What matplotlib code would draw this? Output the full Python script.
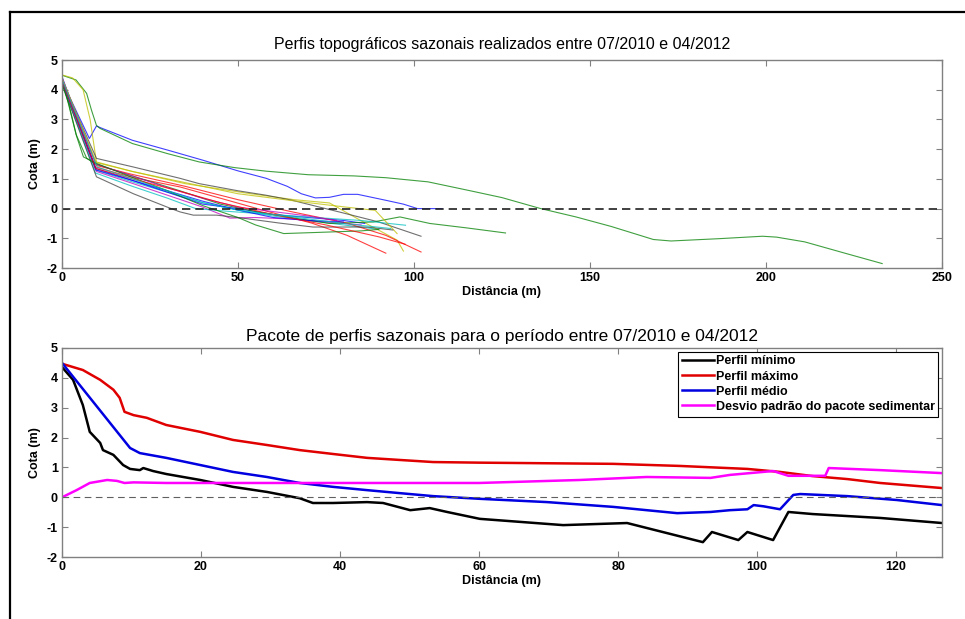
import matplotlib
matplotlib.use("Agg")
import matplotlib.pyplot as plt
from matplotlib.lines import Line2D

plt.rcParams['font.family'] = ['Liberation Sans', 'DejaVu Sans']
plt.rcParams['axes.unicode_minus'] = False

# --- seasonal profiles (distance m, elevation m) ---
prof_x = [
    [0, 4, 7.8, 9.8, 11, 20, 30, 40, 50, 58, 64, 68, 72, 76, 80, 84, 88, 92, 97, 101, 108],
    [0, 4, 7, 8.4, 9.8, 10.8, 20, 30, 39, 49, 58, 70, 83, 92, 104, 116, 125, 136, 146, 156, 168, 173, 187, 199, 203, 211, 223, 233],
    [0, 9.5, 20, 33.5, 45, 57, 71, 81, 92],
    [0, 9.5, 20, 30, 40, 50, 60, 70, 80, 90],
    [0, 9.8, 20, 30, 40, 47.7, 55, 65, 75, 85],
    [0, 3, 6, 8, 9.8, 20, 35, 52.5, 66, 76, 84.7, 95.2, 97],
    [0, 9.8, 20.3, 33.5, 39, 50, 58, 65, 79, 90, 102],
    [0, 9.6, 20, 30, 40, 50, 60, 70, 80, 86],
    [0, 4, 7, 9.5, 20, 33.5, 45, 55, 65, 76, 88.4, 96, 104.5, 115, 126],
    [0, 9.8, 20, 35, 50, 65, 81, 92, 102],
    [0, 9.5, 20, 30, 38, 48, 60, 72, 85, 97.6],
    [0, 9.7, 20, 30, 40, 50, 60, 70, 78],
    [0, 9.8, 20, 30, 40, 50, 60, 70, 80, 89, 95.2],
    [0, 9.8, 20.3, 29.7, 33.5, 37.3, 43.9, 50, 62, 71.3, 86.6, 94],
    [0, 9.7, 20, 30, 40, 50, 60, 70, 80],
    [0, 2, 4.2, 6.1, 9.8, 20, 30, 40, 50, 55, 63, 73, 85, 90],
    [0, 9.6, 20, 33, 45, 60, 75, 90, 97.5],
    [0, 10, 20, 30, 40, 50, 60, 70, 80, 93.4],
]
prof_y = [
    [4.3, 3.3, 2.36, 2.78, 2.72, 2.3, 1.97, 1.63, 1.27, 1.02, 0.75, 0.5, 0.36, 0.38, 0.48, 0.48, 0.38, 0.28, 0.15, 0.0, 0.0],
    [4.49, 4.33, 3.88, 3.31, 2.8, 2.7, 2.19, 1.85, 1.57, 1.38, 1.26, 1.14, 1.1, 1.04, 0.9, 0.6, 0.37, 0.0, -0.28, -0.6, -1.04, -1.09, -1.01, -0.93, -0.96, -1.12, -1.52, -1.85],
    [4.3, 1.4, 1.05, 0.73, 0.35, -0.05, -0.49, -0.9, -1.5],
    [4.2, 1.3, 0.9, 0.55, 0.2, -0.05, -0.25, -0.4, -0.55, -0.7],
    [4.4, 1.25, 0.85, 0.45, 0.05, -0.32, -0.3, -0.35, -0.45, -0.55],
    [4.5, 4.4, 4.0, 3.0, 1.57, 1.25, 0.84, 0.52, 0.3, 0.19, -0.39, -1.06, -1.43],
    [4.3, 1.69, 1.4, 1.02, 0.84, 0.6, 0.45, 0.29, -0.12, -0.45, -0.93],
    [4.45, 1.35, 0.95, 0.55, 0.15, 0.0, -0.2, -0.3, -0.4, -0.5],
    [4.4, 2.5, 1.7, 1.5, 1.1, 0.6, 0.15, -0.1, -0.3, -0.5, -0.45, -0.28, -0.5, -0.65, -0.82],
    [4.35, 1.45, 1.15, 0.75, 0.3, -0.1, -0.49, -0.9, -1.46],
    [4.25, 1.2, 0.75, 0.35, 0.0, -0.1, -0.2, -0.3, -0.4, -0.56],
    [4.4, 1.5, 1.1, 0.7, 0.35, 0.05, -0.1, -0.25, -0.4],
    [4.4, 1.55, 1.25, 1.0, 0.75, 0.5, 0.35, 0.2, 0.06, -0.06, -0.84],
    [4.2, 1.07, 0.5, 0.06, -0.11, -0.22, -0.22, -0.3, -0.49, -0.62, -0.62, -0.72],
    [4.3, 1.3, 0.95, 0.6, 0.25, -0.05, -0.3, -0.4, -0.45],
    [4.2, 3.5, 2.42, 1.74, 1.52, 1.05, 0.6, 0.1, -0.3, -0.55, -0.84, -0.8, -0.75, -0.7],
    [4.3, 1.35, 1.0, 0.6, 0.2, -0.2, -0.55, -0.95, -1.2],
    [4.35, 1.4, 1.0, 0.6, 0.2, -0.05, -0.2, -0.35, -0.5, -0.67],
]

# --- envelope of the profile package ---
min_x = [0, 1.6, 3, 4, 5.5, 5.9, 7.4, 8.8, 9.8, 11.2, 11.7, 13.1, 15, 19.9, 24.6, 29.5, 34.2, 36.1, 39, 43.9, 46.2,
         50.1, 52.9, 55.4, 60.1, 72.1, 81.3, 92.2, 93.5, 97.3, 98.6, 102.3, 104.5, 108, 117.7, 126.6]
min_y = [4.36, 3.93, 3.09, 2.19, 1.82, 1.58, 1.42, 1.08, 0.95, 0.91, 0.98, 0.88, 0.78, 0.58, 0.35, 0.18, -0.03, -0.19,
         -0.19, -0.16, -0.19, -0.43, -0.36, -0.49, -0.72, -0.93, -0.86, -1.5, -1.16, -1.43, -1.16, -1.43, -0.49, -0.56,
         -0.69, -0.86]
max_x = [0, 3, 5.5, 7.4, 8.3, 9, 10.3, 12.2, 15, 19.9, 24.6, 29.5, 34.2, 39, 43.9, 48.6, 53.4, 60, 79.3, 88.9, 98.6,
         103.3, 108, 113, 117.7, 126.6]
max_y = [4.47, 4.26, 3.93, 3.6, 3.33, 2.86, 2.75, 2.66, 2.42, 2.19, 1.92, 1.75, 1.58, 1.45, 1.32, 1.25, 1.18, 1.16,
         1.12, 1.05, 0.95, 0.85, 0.71, 0.61, 0.48, 0.31]
mean_x = [0, 9.8, 11.2, 15, 19.9, 24.6, 29.5, 34.2, 39, 43.9, 48.6, 53.4, 60.1, 69.8, 79.3, 84.1, 88.5, 93.3, 96.1,
          98.6, 99.5, 100.9, 103.3, 105.2, 106.2, 113, 120.1, 126.6]
mean_y = [4.5, 1.65, 1.48, 1.32, 1.08, 0.85, 0.68, 0.48, 0.35, 0.24, 0.14, 0.04, -0.05, -0.16, -0.32, -0.43, -0.53,
          -0.49, -0.43, -0.4, -0.26, -0.3, -0.4, 0.08, 0.11, 0.04, -0.09, -0.26]
std_x = [0, 2.1, 4, 6.5, 7.9, 9, 10.3, 15, 60, 74.5, 84.1, 93.3, 96.1, 102.3, 104.5, 109.8, 110.3, 117.7, 126.6]
std_y = [0.0, 0.24, 0.48, 0.58, 0.55, 0.48, 0.5, 0.48, 0.48, 0.58, 0.68, 0.65, 0.75, 0.88, 0.72, 0.72, 0.98, 0.91,
         0.81]

env_labels = ['Perfil mínimo', 'Perfil máximo', 'Perfil médio', 'Desvio padrão do pacote sedimentar']

matlab_colors = [(0, 0, 1), (0, 0.5, 0), (1, 0, 0), (0, 0.75, 0.75), (0.75, 0, 0.75), (0.75, 0.75, 0),
                 (0.25, 0.25, 0.25)]

fig = plt.figure(figsize=(9.65, 6.19), dpi=100)
ax1 = fig.add_axes([0.0642, 0.567, 0.912, 0.336])
ax2 = fig.add_axes([0.0642, 0.100, 0.912, 0.338])

# outer frame (left and top edges visible)
fig.add_artist(Line2D([10 / 965, 10 / 965], [0, 1 - 12 / 619], color='black', lw=1.6, transform=fig.transFigure))
fig.add_artist(Line2D([10 / 965, 1], [1 - 12 / 619, 1 - 12 / 619], color='black', lw=1.6, transform=fig.transFigure))


def style_axes(ax):
    for s in ax.spines.values():
        s.set_color('#808080')
        s.set_linewidth(1.0)
    ax.tick_params(direction='in', length=4, width=0.8, color='#808080', top=True, right=True,
                   labelsize=9, pad=3)
    for lab in ax.get_xticklabels() + ax.get_yticklabels():
        lab.set_fontweight('bold')


for i, (xs, ys) in enumerate(zip(prof_x, prof_y)):
    ax1.plot(xs, ys, color=matlab_colors[i % 7], lw=0.8, alpha=0.75)
ax1.axhline(0, color='#202020', lw=1.2, ls=(0, (5, 3)))
ax1.set_xlim(0, 250)
ax1.set_ylim(-2, 5)
ax1.set_xticks([0, 50, 100, 150, 200, 250])
ax1.set_yticks(range(-2, 6))
style_axes(ax1)
ax1.set_title('Perfis topográficos sazonais realizados entre 07/2010 e 04/2012', fontsize=11.5, pad=8)
ax1.set_xlabel('Distância (m)', fontsize=9, fontweight='bold', labelpad=1)
ax1.set_ylabel('Cota (m)', fontsize=9, fontweight='bold', labelpad=4)

ax2.plot(min_x, min_y, color='black', lw=1.8, label=env_labels[0])
ax2.plot(max_x, max_y, color='#e00000', lw=1.8, label=env_labels[1])
ax2.plot(mean_x, mean_y, color='#0000e0', lw=1.8, label=env_labels[2])
ax2.plot(std_x, std_y, color='#ff00ff', lw=1.8, label=env_labels[3])
ax2.axhline(0, color='#606060', lw=0.8, ls=(0, (6, 4)))
ax2.set_xlim(0, 126.6)
ax2.set_ylim(-2, 5)
ax2.set_xticks([0, 20, 40, 60, 80, 100, 120])
ax2.set_yticks(range(-2, 6))
style_axes(ax2)
ax2.set_title('Pacote de perfis sazonais para o período entre 07/2010 e 04/2012', fontsize=12.5, pad=5)
ax2.set_xlabel('Distância (m)', fontsize=9, fontweight='bold', labelpad=1)
ax2.set_ylabel('Cota (m)', fontsize=9, fontweight='bold', labelpad=4)
leg = ax2.legend(loc='upper right', prop={'weight': 'bold', 'size': 9}, fancybox=False,
                 framealpha=1, edgecolor='black', borderaxespad=0.3, handlelength=2.6, handletextpad=0.1,
                 labelspacing=0.25, borderpad=0.3)
leg.get_frame().set_linewidth(0.8)

fig.savefig('out.png', dpi=100)
